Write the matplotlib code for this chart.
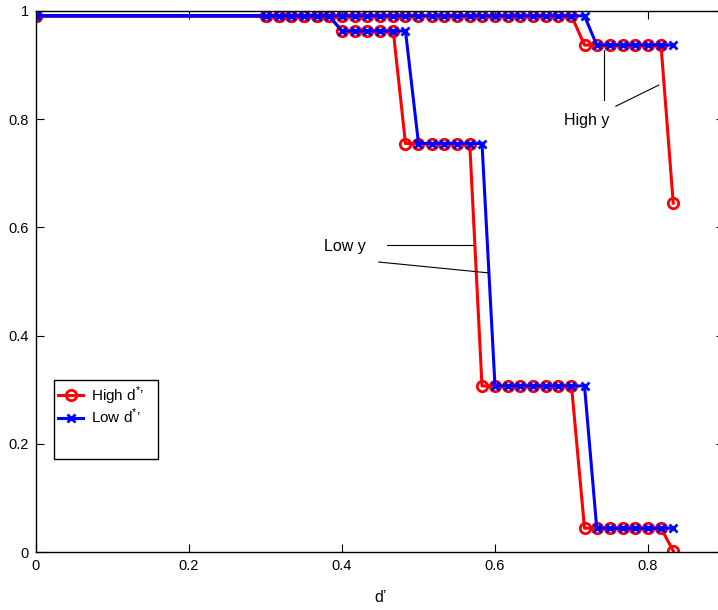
import matplotlib
matplotlib.use("Agg")
import matplotlib.pyplot as plt

plt.rcParams['font.family'] = ['Liberation Sans', 'DejaVu Sans']
plt.rcParams['mathtext.fontset'] = 'custom'
plt.rcParams['mathtext.rm'] = 'Liberation Sans'

x_vals = [0.0, 0.300, 0.317, 0.333, 0.350, 0.367, 0.383, 0.400, 0.417, 0.433,
          0.450, 0.467, 0.483, 0.500, 0.517, 0.533, 0.550, 0.567, 0.583, 0.600,
          0.617, 0.633, 0.650, 0.667, 0.683, 0.700, 0.717, 0.733, 0.750, 0.767,
          0.783, 0.800, 0.817, 0.833]

high_d_high_y = [0.991, 0.991, 0.991, 0.991, 0.991, 0.991, 0.991, 0.991, 0.991, 0.991,
                 0.991, 0.991, 0.991, 0.991, 0.991, 0.991, 0.991, 0.991, 0.991, 0.991,
                 0.991, 0.991, 0.991, 0.991, 0.991, 0.991, 0.937, 0.937, 0.937, 0.937,
                 0.937, 0.937, 0.937, 0.645]
low_d_high_y = [0.991, 0.991, 0.991, 0.991, 0.991, 0.991, 0.991, 0.991, 0.991, 0.991,
                0.991, 0.991, 0.991, 0.991, 0.991, 0.991, 0.991, 0.991, 0.991, 0.991,
                0.991, 0.991, 0.991, 0.991, 0.991, 0.991, 0.991, 0.937, 0.937, 0.937,
                0.937, 0.937, 0.937, 0.937]
high_d_low_y = [0.991, 0.991, 0.991, 0.991, 0.991, 0.991, 0.991, 0.963, 0.963, 0.963,
                0.963, 0.963, 0.755, 0.755, 0.755, 0.755, 0.755, 0.755, 0.307, 0.307,
                0.307, 0.307, 0.307, 0.307, 0.307, 0.307, 0.044, 0.044, 0.044, 0.044,
                0.044, 0.044, 0.044, 0.002]
low_d_low_y = [0.991, 0.991, 0.991, 0.991, 0.991, 0.991, 0.991, 0.963, 0.963, 0.963,
               0.963, 0.963, 0.963, 0.755, 0.755, 0.755, 0.755, 0.755, 0.755, 0.307,
               0.307, 0.307, 0.307, 0.307, 0.307, 0.307, 0.307, 0.044, 0.044, 0.044,
               0.044, 0.044, 0.044, 0.044]

x_ticks = [0, 0.2, 0.4, 0.6, 0.8]
x_tick_labels = ['0', '0.2', '0.4', '0.6', '0.8']
y_ticks = [0, 0.2, 0.4, 0.6, 0.8, 1.0]
y_tick_labels = ['0', '0.2', '0.4', '0.6', '0.8', '1']

fig = plt.figure(figsize=(7.18, 6.10), dpi=100)
ax = fig.add_axes([36/718, 58/610, 688.5/718, 541/610])

red_kw = dict(color='#ff0000', lw=2.2, marker='o', ms=7.5, mfc='none', mew=2)
blue_kw = dict(color='#0000ff', lw=2.2, marker='x', ms=6, mew=2)

l1, = ax.plot(x_vals, high_d_high_y, **red_kw)
ax.plot(x_vals, high_d_low_y, **red_kw)
l2, = ax.plot(x_vals, low_d_high_y, **blue_kw)
ax.plot(x_vals, low_d_low_y, **blue_kw)

ax.set_xlim(0, 0.9)
ax.set_ylim(0, 1)
ax.set_xticks(x_ticks)
ax.set_xticklabels(x_tick_labels)
ax.set_yticks(y_ticks)
ax.set_yticklabels(y_tick_labels)
ax.tick_params(direction='in', length=6, width=0.8, top=True, right=True,
               labelsize=10.5, pad=5)
for s in ax.spines.values():
    s.set_linewidth(1.0)
ax.set_xlabel("d\u2019", fontsize=11.5, labelpad=12)

# annotations
ax.text(0.720, 0.797, 'High y', fontsize=11.5, ha='center', va='center')
ax.plot([0.7425, 0.7425], [0.928, 0.835], color='black', lw=0.8)
ax.plot([0.758, 0.814], [0.824, 0.863], color='black', lw=0.8)
ax.text(0.404, 0.564, 'Low y', fontsize=11.5, ha='center', va='center')
ax.plot([0.459, 0.571], [0.567, 0.567], color='black', lw=0.8)
ax.plot([0.448, 0.591], [0.536, 0.516], color='black', lw=0.8)

blank1, = ax.plot([], [], color='none')
blank2, = ax.plot([], [], color='none')
leg = ax.legend([l1, l2, blank1, blank2],
                ["High d$^{*}$\u2019   ", "Low d$^{*}$\u2019", " ", " "],
                loc='upper left', bbox_to_anchor=(0.026, 0.318),
                fontsize=11, handlelength=1.6, handletextpad=0.5,
                borderpad=0.3, labelspacing=0.0, fancybox=False,
                edgecolor='black', framealpha=1, borderaxespad=0)
leg.get_frame().set_linewidth(1.0)

fig.savefig('out.png', dpi=100)
